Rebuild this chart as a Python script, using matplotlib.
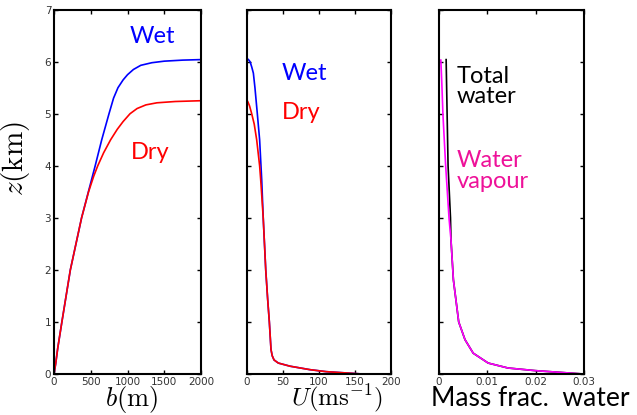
import matplotlib
matplotlib.use("Agg")
import matplotlib.pyplot as plt

plt.rcParams['mathtext.fontset'] = 'cm'

# panel 1: plume radius b (m) against height z (km)
z_wet = [0, 0.2, 0.5, 1, 2, 3, 4, 4.5, 5, 5.3, 5.5, 5.65, 5.75, 5.85, 5.93, 5.98, 6.01, 6.03, 6.04]
b_wet = [0, 23, 51, 107, 222, 375, 560, 649, 748, 810, 870, 940, 1000, 1080, 1180, 1330, 1500, 1750, 2000]
z_dry = [0, 0.2, 0.5, 1, 2, 3, 3.5, 3.8, 4, 4.25, 4.5, 4.7, 4.85, 5.0, 5.1, 5.17, 5.21, 5.235, 5.25]
b_dry = [0, 23, 51, 107, 222, 375, 470, 540, 595, 675, 770, 860, 940, 1034, 1130, 1250, 1400, 1650, 2000]

# panel 2: velocity U (m/s) against z
zu_wet = [0, 0.045, 0.083, 0.15, 0.21, 0.27, 0.35, 0.47, 1, 1.43, 2, 3, 3.73, 4.5, 5, 5.5, 5.78, 5.9, 6.0, 6.04, 6.06]
u_wet = [160, 110, 87.5, 59.7, 43.5, 37.5, 35, 33.3, 31, 28.7, 26, 22.5, 20.4, 17.5, 14.3, 11, 8.8, 6.5, 4.2, 2, 0]
zu_dry = [0, 0.045, 0.083, 0.15, 0.21, 0.27, 0.35, 0.47, 1, 1.43, 2, 3, 3.73, 4.0, 4.5, 4.8, 5.0, 5.15, 5.22, 5.26]
u_dry = [160, 110, 87.5, 59.7, 43.5, 37.5, 35, 33.3, 31, 28.7, 26, 22.5, 19, 17.5, 13.4, 10, 6.5, 3.5, 1.5, 0]

# panel 3: mass fraction of water against z
z_vap = [0, 0.065, 0.115, 0.21, 0.40, 0.66, 1, 1.81, 2.58, 2.99, 4, 5, 5.6, 6.03]
q_vap = [0.0299, 0.0199, 0.0143, 0.0102, 0.0071, 0.0054, 0.0041, 0.003, 0.0025, 0.0021, 0.0014, 0.00083, 0.0006, 0.0004]
z_tot = [0, 0.065, 0.115, 0.21, 0.40, 0.66, 1, 1.81, 2.58, 3, 4, 5, 6.04]
q_tot = [0.0299, 0.0199, 0.0143, 0.0102, 0.0071, 0.0054, 0.0041, 0.003, 0.0025, 0.0024, 0.0019, 0.0017, 0.0015]

fig = plt.figure(figsize=(6.37, 4.15), dpi=100)
ax1 = fig.add_axes([0.0848, 0.0988, 0.2308, 0.878])
ax2 = fig.add_axes([0.3878, 0.0988, 0.226, 0.878])
ax3 = fig.add_axes([0.689, 0.0988, 0.2276, 0.878])

lab = dict(family='Lato', fontsize=17)

ax1.plot(b_wet, z_wet, color='#0000ff', lw=1.2)
ax1.plot(b_dry, z_dry, color='#ff0000', lw=1.2)
ax1.set_xlim(0, 2000)
ax1.set_xticks([0, 500, 1000, 1500, 2000])
ax1.text(1333, 6.49, 'Wet', color='#0000ff', ha='center', va='center', **lab)
ax1.text(1306, 4.26, 'Dry', color='#ff0000', ha='center', va='center', **lab)
ax1.set_ylabel(r'$z(\mathrm{km})$', fontsize=21)
ax1.set_xlabel(r'$b(\mathrm{m})$', fontsize=19)

ax2.plot(u_wet, zu_wet, color='#0000ff', lw=1.2)
ax2.plot(u_dry, zu_dry, color='#ff0000', lw=1.2)
ax2.set_xlim(0, 200)
ax2.set_xticks([0, 50, 100, 150, 200])
ax2.set_yticklabels([])
ax2.text(48, 5.78, 'Wet', color='#0000ff', ha='left', va='center', **lab)
ax2.text(48, 5.03, 'Dry', color='#ff0000', ha='left', va='center', **lab)
ax2.set_xlabel(r'$U(\mathrm{ms}^{-1})$', fontsize=18)

ax3.plot(q_tot, z_tot, color='black', lw=1.2)
ax3.plot(q_vap, z_vap, color='#ff00ff', lw=1.2)
ax3.set_xlim(0, 0.03)
ax3.set_xticks([0, 0.01, 0.02, 0.03])
ax3.set_xticklabels(['0', '0.01', '0.02', '0.03'])
ax3.set_yticklabels([])
ax3.text(0.0037, 5.53, 'Total\nwater', color='black', ha='left', va='center', linespacing=0.95, **lab)
ax3.text(0.0037, 3.9, 'Water\nvapour', color='#ee1199', ha='left', va='center', linespacing=0.95, **lab)
ax3.set_xlabel('Mass frac.  water', family='Lato', fontsize=19)

for ax in (ax1, ax2, ax3):
    ax.set_ylim(0, 7)
    ax.set_yticks(range(8))
    ax.tick_params(direction='in', length=3, width=1, top=True, right=True,
                   labelsize=7.5, labelcolor='#333333', pad=2)
    for s in ax.spines.values():
        s.set_linewidth(1.5)
ax1.xaxis.set_label_coords(0.53, -0.028)
ax2.xaxis.set_label_coords(0.625, -0.022)
ax3.xaxis.set_label_coords(0.63, -0.032)
ax1.yaxis.set_label_coords(-0.15, 0.59)

fig.savefig('out.png', dpi=100)
